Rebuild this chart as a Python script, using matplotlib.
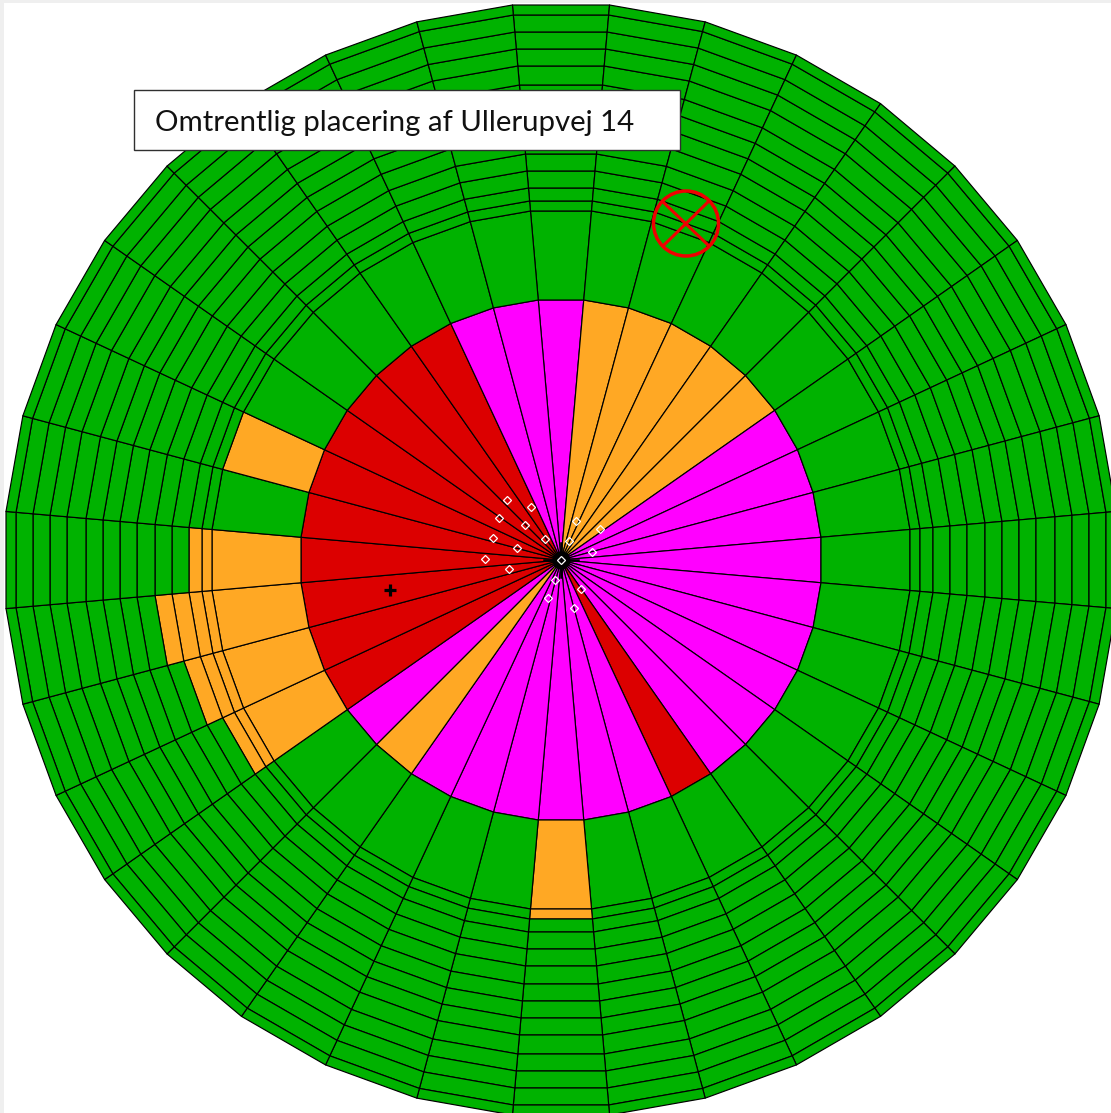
import numpy as np
import matplotlib
matplotlib.use("Agg")
import matplotlib.pyplot as plt
from matplotlib.patches import Rectangle, Ellipse

GREEN = "#00b200"
MAGENTA = "#ff00ff"
RED = "#dc0000"
ORANGE = "#ffa824"

# ring radii in picture pixels, inner disc first
ring_radii = [260, 349, 359, 372, 389, 406, 424, 441, 458, 475, 494, 511, 528, 545, 555]

# colour of the inner disc per 10 degree sector, clockwise from north
sector_colors = [
    MAGENTA, ORANGE, ORANGE, ORANGE, ORANGE, ORANGE,
    MAGENTA, MAGENTA, MAGENTA, MAGENTA, MAGENTA, MAGENTA,
    MAGENTA, MAGENTA, MAGENTA, RED, MAGENTA, MAGENTA,
    MAGENTA, MAGENTA, MAGENTA, MAGENTA, ORANGE, MAGENTA,
    RED, RED, RED, RED, RED, RED,
    RED, RED, RED, RED, MAGENTA, MAGENTA,
]

# sector index -> radius the orange zone reaches
orange_reach = {18: 359, 24: 372, 25: 389, 26: 406, 27: 372, 29: 349}

marker_x = [506.7, 530.7, 499.3, 525, 492.7, 545, 516.7, 485.3, 509.3,
            576, 600, 569, 592.3, 561.3, 555, 581.3, 547.7, 574.3]
marker_y = [500, 506.7, 518, 525, 537.7, 539, 547.7, 558.7, 568.7,
            520.7, 529.3, 541, 551.7, 560, 580, 588.7, 598.3, 608]

label = "Omtrentlig placering af Ullerupvej 14"

cx, cy = 561, 560


def sector_poly(k, r0, r1):
    # straight chords between the radial lines, r is measured at mid sector
    a0 = np.radians(10 * k - 5)
    a1 = np.radians(10 * k + 5)
    f = 1 / np.cos(np.radians(5))
    xs = [cx + r0 * f * np.sin(a0), cx + r1 * f * np.sin(a0),
          cx + r1 * f * np.sin(a1), cx + r0 * f * np.sin(a1)]
    ys = [cy - r0 * f * np.cos(a0), cy - r1 * f * np.cos(a0),
          cy - r1 * f * np.cos(a1), cy - r0 * f * np.cos(a1)]
    return xs, ys


fig = plt.figure(figsize=(11.11, 11.13), dpi=100, facecolor="#efefef")
ax = fig.add_axes([0, 0, 1, 1])
ax.set_xlim(0, 1111)
ax.set_ylim(1113, 0)
ax.axis("off")
ax.add_patch(Rectangle((4, 3), 1107, 1110, facecolor="white", edgecolor="none", zorder=0))

lw = 0.85
for k in range(36):
    xs, ys = sector_poly(k, 0, ring_radii[0])
    ax.fill(xs, ys, facecolor=sector_colors[k], edgecolor="black", lw=lw, joinstyle="round", zorder=2)
    for r0, r1 in zip(ring_radii[:-1], ring_radii[1:]):
        color = ORANGE if r1 <= orange_reach.get(k, 0) else GREEN
        xs, ys = sector_poly(k, r0, r1)
        ax.fill(xs, ys, facecolor=color, edgecolor="black", lw=lw, joinstyle="round", zorder=2)

# small crosses at the centre and in the red zone
ax.plot([cx - 17, cx + 17], [cy, cy], color="black", lw=1.8, zorder=3)
ax.plot([cx, cx], [cy - 17, cy + 17], color="black", lw=1.8, zorder=3)
ax.plot([cx], [cy], "o", ms=13, color="black", mew=0, zorder=3)
ax.plot([390], [590], "+", ms=8, color="black", mew=2.3, zorder=3)

ax.plot(marker_x, marker_y, "D", ms=4, mfc="none", mec="white", mew=0.9, ls="none", zorder=4)

# location mark
ax.add_patch(Ellipse((686, 223.5), 65, 65, facecolor="none", edgecolor="#f00000", lw=2.5, zorder=5))
ax.plot([663, 708], [202, 245], color="#f00000", lw=2.2, zorder=5)
ax.plot([708, 663], [202, 246], color="#f00000", lw=2.2, zorder=5)

# label box
ax.add_patch(Rectangle((134, 90), 546, 60, facecolor="white", edgecolor="#303030", lw=1, zorder=6))
ax.text(155, 123, label, family="Lato", fontsize=21.2, color="#111111", va="center", ha="left", zorder=7)

plt.savefig("out.png", dpi=100, facecolor=fig.get_facecolor())
